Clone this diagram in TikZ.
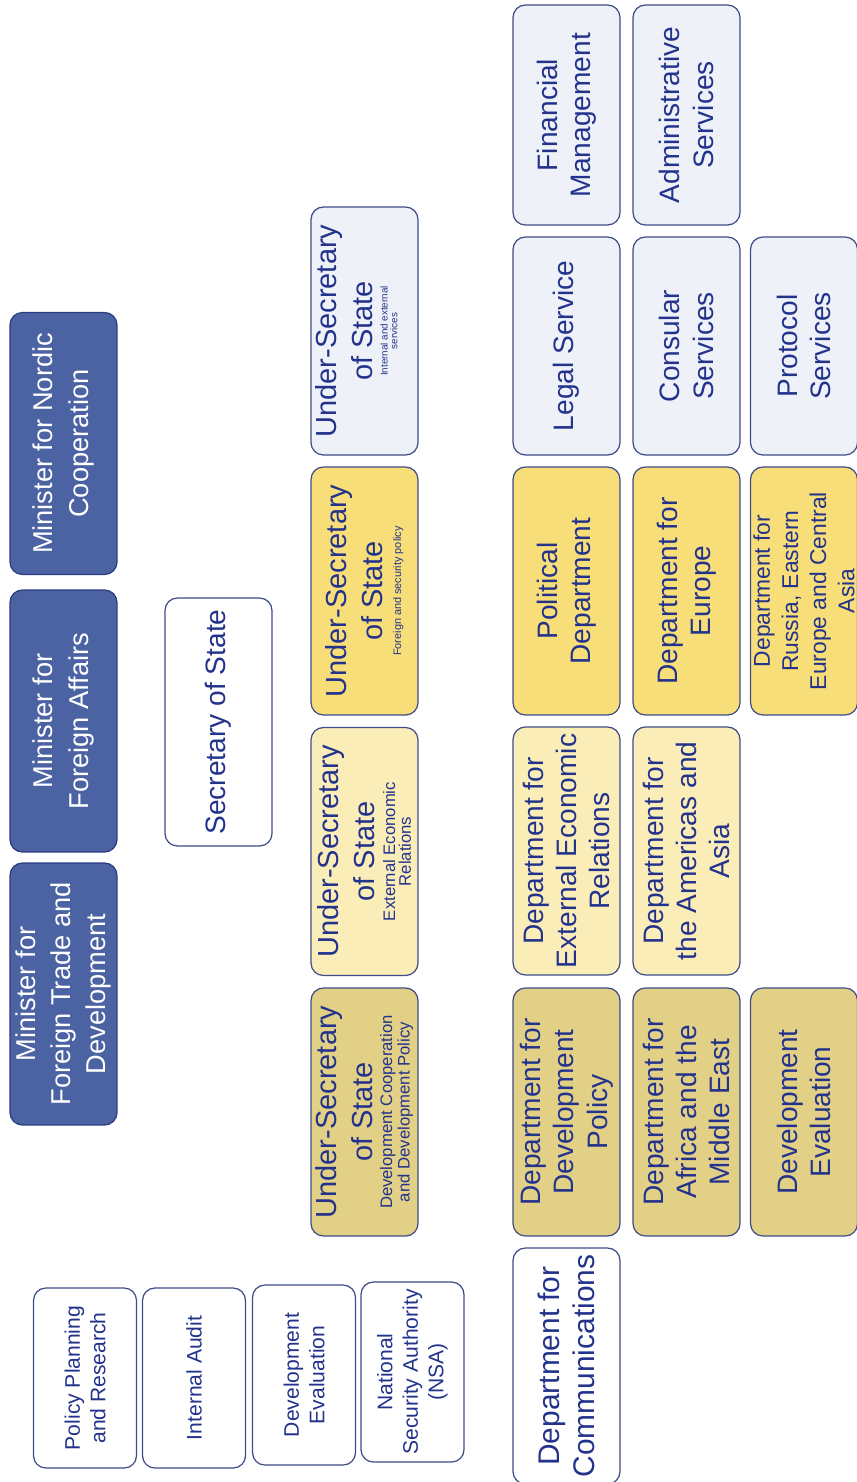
\documentclass[tikz,border=0pt]{standalone}
\usepackage{fontspec}
\setmainfont{Liberation Sans}
\usetikzlibrary{positioning}
\definecolor{txtblue}{HTML}{23338C}
\definecolor{boxline}{HTML}{3F4C88}
\definecolor{ministerblue}{HTML}{4B62A3}
\definecolor{ministerline}{HTML}{2A3C80}
\definecolor{paleblue}{HTML}{EEF1F7}
\definecolor{gold}{HTML}{F8DE78}
\definecolor{paleyellow}{HTML}{FBEDB8}
\definecolor{khaki}{HTML}{E2D086}

\begin{document}
\begin{tikzpicture}[x=0.02cm,y=-0.02cm,
  box node/.style={draw=boxline,line width=0.7pt,rounded corners=7pt,rotate=90,align=center,inner sep=0pt,outer sep=0pt,text=txtblue,minimum height=2.14cm,minimum width=4.96cm,font=\fontsize{16}{19}\selectfont},
  minister node/.style={box node,fill=ministerblue,draw=ministerline,text=white,minimum width=5.24cm,font=\fontsize{15.5}{20}\selectfont},
  under node/.style={box node,font=\fontsize{16.5}{20.5}\selectfont},
  service node/.style={box node,fill=paleblue},
  unit node/.style={box node,fill=white,minimum height=2.06cm,minimum width=3.6cm,font=\fontsize{12}{14.5}\selectfont}]

    \useasboundingbox (0,0) rectangle (857,1482);

    % ministers
    \node[minister node] at (63.5,443.5) (1) {Minister for Nordic\\Cooperation};
    \node[minister node] at (63.5,721) (2) {Minister for\\Foreign Affairs};
    \node[minister node] at (63.5,994) (3) {Minister for\\Foreign Trade and\\Development};

    \node[box node,fill=white] at (218.5,722) (4) {Secretary of State};

    % under-secretaries of state
    \node[under node,fill=paleblue,text depth=9pt] at (364.5,331) (5) {Under-Secretary\\of State\\[-12pt]{\fontsize{5.6}{6}\selectfont Internal and external}\\[-15pt]{\fontsize{5.6}{6}\selectfont services}};
    \node[under node,fill=gold] at (364.5,591) (6) {Under-Secretary\\of State\\[-10pt]{\fontsize{6.2}{7}\selectfont Foreign and security policy}};
    \node[under node,fill=paleyellow] at (364.5,851.5) (7) {Under-Secretary\\of State\\[-9pt]{\fontsize{9.5}{10}\selectfont External Economic}\\[-11.5pt]{\fontsize{9.5}{10}\selectfont Relations}};
    \node[under node,fill=khaki] at (364.5,1112) (8) {Under-Secretary\\of State\\[-9.5pt]{\fontsize{9.5}{10}\selectfont Development Cooperation}\\[-10.5pt]{\fontsize{9.5}{10}\selectfont and Development Policy}};

    % departments and services
    \node[service node,minimum width=4.4cm] at (566.5,115) (9) {Financial\\Management};
    \node[service node,minimum width=4.36cm] at (566.5,346) (10) {Legal Service};
    \node[box node,fill=gold] at (566.5,591) (11) {Political\\Department};
    \node[box node,fill=paleyellow] at (566.5,851) (12) {Department for\\External Economic\\Relations};
    \node[box node,fill=khaki] at (566.5,1112) (13) {Department for\\Development\\Policy};
    \node[box node,fill=white,minimum width=4.72cm,font=\fontsize{17}{20}\selectfont] at (566.5,1366) (14) {Department for\\Communications};

    \node[service node,minimum width=4.4cm] at (686.5,115) (15) {Administrative\\Services};
    \node[service node,minimum width=4.36cm] at (686.5,346) (16) {Consular\\Services};
    \node[box node,fill=gold] at (686.5,591) (17) {Department for\\Europe};
    \node[box node,fill=paleyellow] at (686.5,851) (18) {Department for\\the Americas and\\Asia};
    \node[box node,fill=khaki] at (686.5,1112) (19) {Department for\\Africa and the\\Middle East};

    \node[service node,minimum width=4.36cm] at (804,346) (20) {Protocol\\Services};
    \node[box node,fill=gold,font=\fontsize{13}{16}\selectfont] at (804,591) (21) {Department for\\Russia, Eastern\\Europe and Central\\Asia};
    \node[box node,fill=khaki] at (804,1112) (22) {Development\\Evaluation};

    % units under the secretary of state
    \node[unit node] at (85,1378) (23) {Policy Planning\\and Research};
    \node[unit node] at (194,1378) (24) {Internal Audit};
    \node[unit node] at (304,1375) (25) {Development\\Evaluation};
    \node[unit node] at (412.5,1372) (26) {National\\Security Authority\\(NSA)};

\end{tikzpicture}
\end{document}
